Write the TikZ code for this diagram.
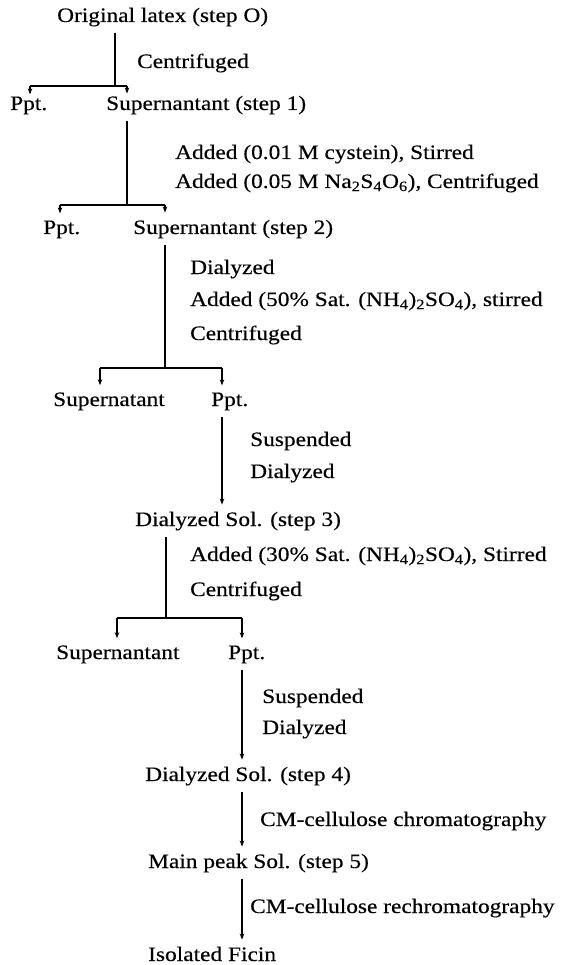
\documentclass[tikz,border=0pt]{standalone}
\usepackage{fontspec}
\setmainfont{Liberation Serif}[FakeStretch=1.14,FakeBold=0.35]
\usetikzlibrary{arrows.meta}
\begin{document}
\begin{tikzpicture}[x=1pt,y=-1pt,
  lbl/.style={inner xsep=0pt, inner ysep=2pt, anchor=base west, font=\fontsize{20.5}{24}\selectfont},
  ln/.style={line width=1.2pt},
  arr/.style={line width=1.2pt, -{Stealth[length=6pt,width=4.5pt]}, shorten >=5pt},
  from/.style={shorten <=4pt}
]
\useasboundingbox (0,0) rectangle (573,965);
% texts
\node[lbl] (t0) at (57,22) {Original latex (step O)};
\node[lbl] (c1) at (137,68) {Centrifuged};
\node[lbl] (p1) at (10,110) {Ppt.};
\node[lbl] (s1) at (106,110) {Supernantant (step 1)};
\node[lbl] (a1) at (175,159) {Added (0.01 M cystein), Stirred};
\node[lbl] (a2) at (175,188) {Added (0.05 M Na\textsubscript{2}S\textsubscript{4}O\textsubscript{6}), Centrifuged};
\node[lbl] (p2) at (43,234) {Ppt.};
\node[lbl] (s2) at (133,234) {Supernantant (step 2)};
\node[lbl] (d2) at (190,274) {Dialyzed};
\node[lbl] (a3) at (190,306) {Added (50\% Sat. (NH\textsubscript{4})\textsubscript{2}SO\textsubscript{4}), stirred};
\node[lbl] (c3) at (190,340) {Centrifuged};
\node[lbl] (s3) at (53,406) {Supernatant};
\node[lbl] (p3) at (211,406) {Ppt.};
\node[lbl] (u3) at (250,446) {Suspended};
\node[lbl] (e3) at (250,478) {Dialyzed};
\node[lbl] (o3) at (135,526) {Dialyzed Sol. (step 3)};
\node[lbl] (a4) at (190,561) {Added (30\% Sat. (NH\textsubscript{4})\textsubscript{2}SO\textsubscript{4}), Stirred};
\node[lbl] (c4) at (190,596) {Centrifuged};
\node[lbl] (s4) at (56,659) {Supernantant};
\node[lbl] (p4) at (228,659) {Ppt.};
\node[lbl] (u4) at (262,703) {Suspended};
\node[lbl] (e4) at (262,734) {Dialyzed};
\node[lbl] (o4) at (145,781) {Dialyzed Sol. (step 4)};
\node[lbl] (m1) at (260,826) {CM-cellulose chromatography};
\node[lbl] (o5) at (148,868) {Main peak Sol. (step 5)};
\node[lbl] (m2) at (250,913) {CM-cellulose rechromatography};
\node[lbl] (fi) at (148,961) {Isolated Ficin};
% junctions
\coordinate (j1) at (115,86);  \coordinate (j1l) at (30,86);  \coordinate (j1r) at (127,86);
\coordinate (j2) at (127,205); \coordinate (j2l) at (60,205);  \coordinate (j2r) at (165,205);
\coordinate (j3) at (165,368); \coordinate (j3l) at (100,368); \coordinate (j3r) at (222,368);
\coordinate (j4) at (166,618); \coordinate (j4l) at (117,618); \coordinate (j4r) at (242,618);
% step 0 -> 1
\draw[ln,from] (t0.south -| j1) -- (j1);
\draw[ln] (j1l) -- (j1r);
\draw[arr,shorten >=0pt] (j1l) -- (p1.north -| j1l);
\draw[arr,shorten >=0pt] (j1r) -- (s1.north -| j1r);
% step 1 -> 2
\draw[ln,from] (s1.south -| j2) -- (j2);
\draw[ln] (j2l) -- (j2r);
\draw[arr] (j2l) -- (p2.north -| j2l);
\draw[arr] (j2r) -- (s2.north -| j2r);
% step 2 -> branch
\draw[ln,from] (s2.south -| j3) -- (j3);
\draw[ln] (j3l) -- (j3r);
\draw[arr] (j3l) -- (s3.north -| j3l);
\draw[arr] (j3r) -- (p3.north -| j3r);
\draw[arr,from] (p3.south -| j3r) -- (o3.north -| j3r);
% step 3 -> branch
\draw[ln,from] (o3.south -| j4) -- (j4);
\draw[ln] (j4l) -- (j4r);
\draw[arr] (j4l) -- (s4.north -| j4l);
\draw[arr] (j4r) -- (p4.north -| j4r);
\draw[arr,from] (p4.south -| j4r) -- (o4.north -| j4r);
\draw[arr,from] (o4.south -| j4r) -- (o5.north -| j4r);
\draw[arr,from] (o5.south -| j4r) -- (fi.north -| j4r);
\end{tikzpicture}
\end{document}
